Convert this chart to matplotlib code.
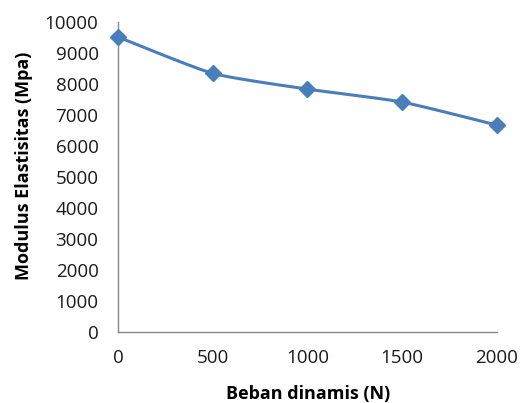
import numpy as np
import matplotlib
matplotlib.use("Agg")
import matplotlib.pyplot as plt

# data
beban = [0, 500, 1000, 1500, 2000]
modulus = [9520, 8350, 7840, 7420, 6680]
y_ticks = list(range(0, 10001, 1000))

plt.rcParams["font.family"] = ["Open Sans", "DejaVu Sans"]


def smooth(xs, ys, n=30, tension=0.6):
    # cubic Hermite with Catmull-Rom tangents (scaled), like Excel's smoothed line
    xs = np.asarray(xs, float)
    ys = np.asarray(ys, float)
    px = np.concatenate([[2 * xs[0] - xs[1]], xs, [2 * xs[-1] - xs[-2]]])
    py = np.concatenate([[2 * ys[0] - ys[1]], ys, [2 * ys[-1] - ys[-2]]])
    t = np.linspace(0, 1, n)
    h00 = 2 * t ** 3 - 3 * t ** 2 + 1
    h10 = t ** 3 - 2 * t ** 2 + t
    h01 = -2 * t ** 3 + 3 * t ** 2
    h11 = t ** 3 - t ** 2
    out_x, out_y = [], []
    for i in range(1, len(px) - 2):
        for p, out in ((px, out_x), (py, out_y)):
            m1 = tension * 0.5 * (p[i + 1] - p[i - 1])
            m2 = tension * 0.5 * (p[i + 2] - p[i])
            out.extend(h00 * p[i] + h10 * m1 + h01 * p[i + 1] + h11 * m2)
    return np.array(out_x), np.array(out_y)


fig = plt.figure(figsize=(5.22, 4.03), dpi=100)
ax = fig.add_axes([0.226, 0.176, 0.726, 0.769])

color = "#4A7EBB"
sx, sy = smooth(beban, modulus)
ax.plot(sx, sy, color=color, linewidth=2.2, zorder=2)
ax.plot(beban, modulus, linestyle="none", marker="D", markersize=8.5,
        color=color, zorder=3, clip_on=False)

ax.set_xlim(0, 2000)
ax.set_ylim(0, 10000)
ax.set_xticks(beban)
ax.set_yticks(y_ticks)
ax.tick_params(length=0, labelsize=13.5, colors="#1a1a1a")
ax.tick_params(axis="x", pad=12)
ax.tick_params(axis="y", pad=14)

for side in ("top", "right"):
    ax.spines[side].set_visible(False)
for side in ("left", "bottom"):
    ax.spines[side].set_color("#888888")
    ax.spines[side].set_linewidth(1.0)

ax.set_xlabel("Beban dinamis (N)", fontsize=13, fontweight="bold")
ax.set_ylabel("Modulus Elastisitas (Mpa)", fontsize=13, fontweight="bold")
ax.xaxis.set_label_coords(308 / 522, 9 / 403, transform=fig.transFigure)
ax.yaxis.set_label_coords(24 / 522, 1 - 166 / 403, transform=fig.transFigure)
ax.xaxis.label.set_va("center")
ax.yaxis.label.set_va("center")

plt.savefig("out.png", dpi=100)
